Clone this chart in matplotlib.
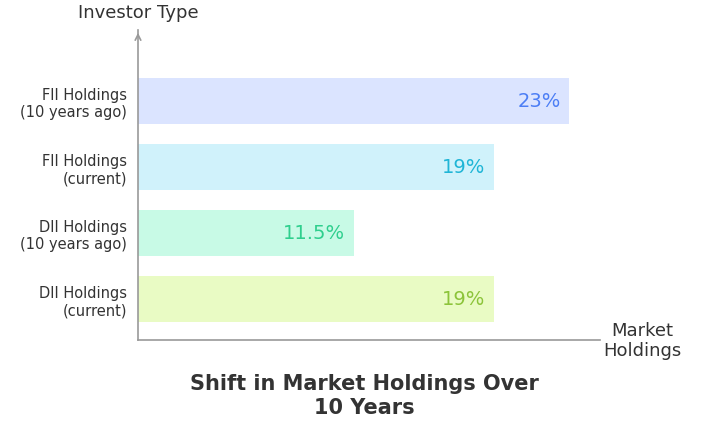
import matplotlib
matplotlib.use("Agg")
import matplotlib.pyplot as plt

categories = ["FII Holdings\n(10 years ago)", "FII Holdings\n(current)", "DII Holdings\n(10 years ago)", "DII Holdings\n(current)"]
values = [23, 19, 11.5, 19]
labels = ["23%", "19%", "11.5%", "19%"]
bar_colors = ["#dbe4ff", "#d0f2fb", "#c8fae6", "#e9fbc4"]
text_colors = ["#4c7ef5", "#1fb5d6", "#2fcf8e", "#8cc43a"]

fig = plt.figure(figsize=(7.02, 4.44), dpi=100)
W, H = 702, 444
x0, y0, x1, y1 = 138, 340, 600, 30
ax = fig.add_axes([x0 / W, (H - y0) / H, (x1 - x0) / W, (y0 - y1) / H])
ypos = [3, 2, 1, 0]
ax.barh(ypos, values, height=0.7, color=bar_colors)
for y, v, l, c in zip(ypos, values, labels, text_colors):
    ax.text(v - 0.45, y, l, ha="right", va="center", fontsize=14, color=c)
ax.set_xlim(0, (x1 - x0) / 18.74)
ax.set_ylim(-0.62, 4.08)
ax.set_yticks(ypos)
ax.set_yticklabels(categories, fontsize=10.5, color="#333333", ha="right", multialignment="right")
ax.tick_params(axis="y", length=0, pad=8)
ax.set_xticks([])
for s in ["top", "right"]:
    ax.spines[s].set_visible(False)
for s in ["left", "bottom"]:
    ax.spines[s].set_color("#999999")
    ax.spines[s].set_linewidth(1.2)
ax.plot(0, 1, "^", color="#999999", transform=ax.transAxes, clip_on=False, markersize=0)
ax.annotate("", xy=(0, 1.0), xytext=(0, 0.97), xycoords="axes fraction",
            arrowprops=dict(arrowstyle="->", color="#999999", lw=1.2))
fig.text(138 / W, 1 - 13 / H, "Investor Type", ha="center", va="center", fontsize=13, color="#333333")
fig.text(642 / W, 1 - 341 / H, "Market\nHoldings", ha="center", va="center", fontsize=13, color="#333333", linespacing=1.2)
fig.text(364 / W, 1 - 396 / H, "Shift in Market Holdings Over\n10 Years", ha="center", va="center",
         fontsize=15, fontweight="bold", color="#333333", linespacing=1.2)
fig.savefig("out.png", dpi=100, facecolor="white")
